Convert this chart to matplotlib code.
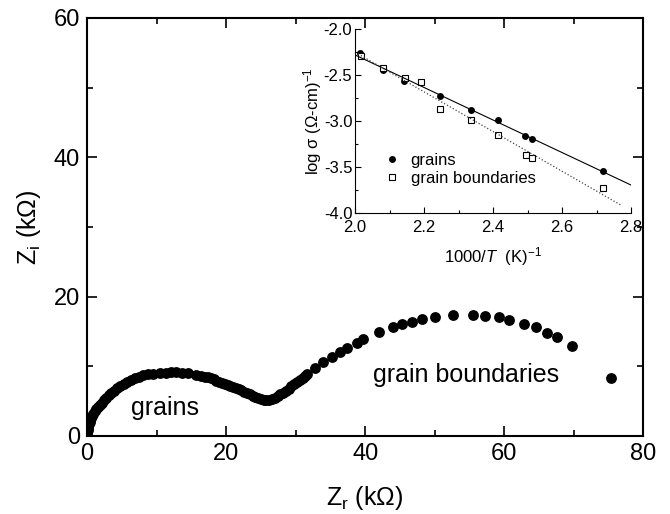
import numpy as np
import matplotlib
matplotlib.use("Agg")
import matplotlib.pyplot as plt
from matplotlib.ticker import MultipleLocator, FormatStrFormatter

plt.rcParams['font.family'] = ['Liberation Sans', 'DejaVu Sans']
plt.rcParams['axes.unicode_minus'] = False
plt.rcParams['mathtext.fontset'] = 'custom'
plt.rcParams['mathtext.rm'] = 'Liberation Sans'
plt.rcParams['mathtext.it'] = 'Liberation Sans:italic'

# Impedance spectrum (kOhm)
z_real = [0.02, 0.05, 0.08, 0.12, 0.18, 0.25, 0.35, 0.45, 0.6, 0.75, 0.9, 1.1, 1.3,
          1.55, 1.8, 2.1, 2.4, 2.75, 3.1, 3.5, 3.9, 4.35, 4.8, 5.3, 5.8, 6.35, 6.9,
          7.5, 8.1, 8.7, 9.5, 10.5, 11.3, 12.0, 12.8, 13.6, 14.5, 15.6, 16.4,
          17.0, 17.4, 17.8, 18.2, 18.6, 19.0, 19.4, 19.8, 20.2, 20.6, 21.0, 21.4,
          21.8, 22.2, 22.6, 23.0, 23.4, 23.8, 24.2, 24.6, 25.0, 25.4, 25.8, 26.2,
          26.6, 27.0, 27.4, 27.8, 28.2, 28.6, 29.0, 29.4, 29.8, 30.2, 30.6, 31.0,
          31.4, 31.7, 32.8, 34.0, 35.2, 36.4, 37.4, 38.8, 39.7, 42.0, 44.0, 45.3,
          46.7, 48.2, 50.1, 52.7, 55.5, 57.3, 59.3, 60.7, 62.9, 64.6, 66.2, 67.6,
          69.8, 75.3]
z_imag = [0.2, 0.5, 0.8, 1.1, 1.4, 1.7, 2.0, 2.3, 2.6, 2.9, 3.2, 3.5, 3.8,
          4.1, 4.4, 4.75, 5.1, 5.45, 5.8, 6.15, 6.5, 6.85, 7.15, 7.45, 7.75, 8.05, 8.3,
          8.5, 8.7, 8.85, 8.95, 9.0, 9.05, 9.1, 9.1, 9.05, 9.0, 8.8, 8.65,
          8.5, 8.4, 8.25, 8.1, 7.95, 7.8, 7.65, 7.5, 7.35, 7.2, 7.05, 6.9,
          6.75, 6.55, 6.35, 6.15, 5.95, 5.75, 5.6, 5.45, 5.3, 5.22, 5.18, 5.2,
          5.3, 5.45, 5.7, 5.95, 6.2, 6.5, 6.8, 7.1, 7.4, 7.7, 8.0, 8.3,
          8.6, 8.9, 9.8, 10.6, 11.3, 12.1, 12.6, 13.3, 13.9, 14.9, 15.6, 16.1,
          16.4, 16.8, 17.0, 17.4, 17.4, 17.2, 17.0, 16.6, 16.1, 15.6, 14.8, 14.2,
          12.9, 8.3]

# Arrhenius data: 1000/T (1/K) and log conductivity
inv_t_grains = [2.015, 2.080, 2.143, 2.247, 2.335, 2.415, 2.493, 2.513, 2.719]
log_sigma_grains = [-2.26, -2.44, -2.57, -2.73, -2.885, -2.985, -3.16, -3.195, -3.545]
inv_t_gb = [2.016, 2.082, 2.144, 2.191, 2.246, 2.335, 2.414, 2.494, 2.513, 2.719]
log_sigma_gb = [-2.29, -2.42, -2.53, -2.58, -2.865, -2.985, -3.15, -3.37, -3.40, -3.73]

fig = plt.figure(figsize=(6.70, 5.14), dpi=100)
ax = fig.add_axes([0.130, 0.152, 0.830, 0.813])
ax.plot(z_real, z_imag, 'o', color='black', markersize=7.8, markeredgewidth=0)
ax.set_xlim(0, 80)
ax.set_ylim(0, 60)
ax.xaxis.set_major_locator(MultipleLocator(20))
ax.xaxis.set_minor_locator(MultipleLocator(10))
ax.yaxis.set_major_locator(MultipleLocator(20))
ax.yaxis.set_minor_locator(MultipleLocator(10))
ax.tick_params(which='both', direction='in', top=True, right=True, labelsize=17, width=1.2)
ax.tick_params(which='major', length=7, pad=5)
ax.tick_params(which='minor', length=4)
for s in ax.spines.values():
    s.set_linewidth(1.5)
ax.set_xlabel('Z$_\\mathrm{r}$ (k\u03a9)', fontsize=18, labelpad=14)
ax.set_ylabel('Z$_\\mathrm{i}$ (k\u03a9)', fontsize=18, labelpad=8)
ax.text(11.2, 4.0, 'grains', fontsize=18, ha='center', va='center')
ax.text(54.5, 8.8, 'grain boundaries', fontsize=18, ha='center', va='center')

# Inset: Arrhenius plot
ins = fig.add_axes([0.530, 0.5855, 0.412, 0.358])
ins.plot(inv_t_grains, log_sigma_grains, 'o', color='black', markersize=5,
         markeredgewidth=0, label='grains')
ins.plot(inv_t_gb, log_sigma_gb, 's', markerfacecolor='white', markeredgecolor='black',
         markersize=5, markeredgewidth=0.8, label='grain boundaries')
p1 = np.polyfit(inv_t_grains, log_sigma_grains, 1)
p2 = np.polyfit(inv_t_gb, log_sigma_gb, 1)
x1 = np.array([2.0, 2.8])
x2 = np.array([2.0, 2.77])
ins.plot(x1, np.polyval(p1, x1), '-', color='black', linewidth=0.8)
ins.plot(x2, np.polyval(p2, x2), ':', color='#444444', linewidth=0.9)
ins.set_xlim(2.0, 2.8)
ins.set_ylim(-4.0, -2.0)
ins.xaxis.set_major_locator(MultipleLocator(0.2))
ins.xaxis.set_minor_locator(MultipleLocator(0.1))
ins.yaxis.set_major_locator(MultipleLocator(0.5))
ins.yaxis.set_minor_locator(MultipleLocator(0.25))
ins.xaxis.set_major_formatter(FormatStrFormatter('%.1f'))
ins.yaxis.set_major_formatter(FormatStrFormatter('%.1f'))
ins.spines['top'].set_visible(False)
ins.spines['right'].set_visible(False)
ins.tick_params(which='both', direction='in', labelsize=12, width=0.8)
ins.tick_params(axis='x', pad=5)
ins.tick_params(axis='y', pad=2)
ins.tick_params(which='major', length=4)
ins.tick_params(which='minor', length=2)
ins.set_xlabel('1000/$T$  (K)$^{-1}$', fontsize=12, labelpad=7)
ins.set_ylabel('log \u03c3 (\u03a9-cm)$^{-1}$', fontsize=12, labelpad=0)
ins.legend(loc='lower left', bbox_to_anchor=(0.08, 0.11), frameon=False, fontsize=12,
           handletextpad=0.6, labelspacing=0.2, borderaxespad=0, handlelength=1.0)

fig.savefig('out.png', dpi=100)
